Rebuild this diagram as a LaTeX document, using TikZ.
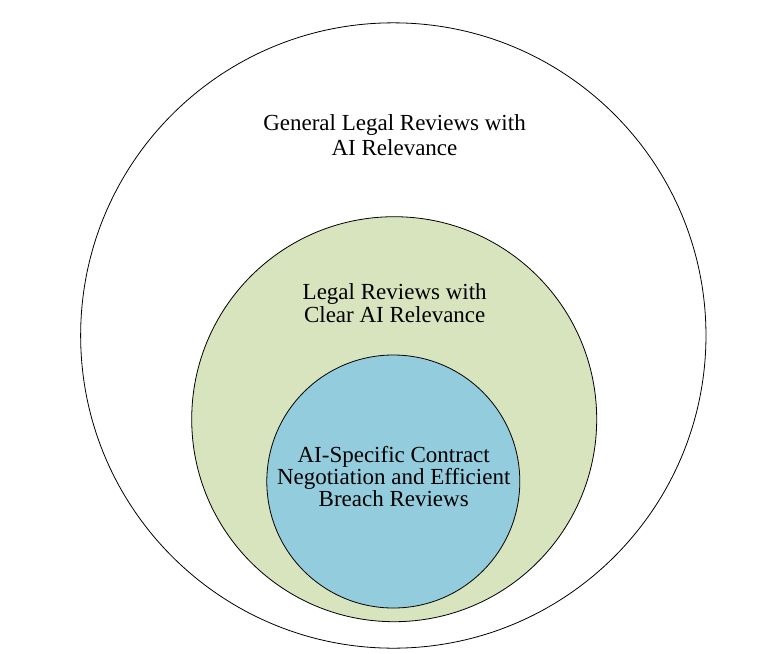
\documentclass[tikz,border=0pt]{standalone}
\usepackage{fontspec}
\setmainfont{Liberation Serif}
\definecolor{ringgreen}{HTML}{D7E4BD}
\definecolor{coreblue}{HTML}{93CDDD}
\begin{document}
\begin{tikzpicture}[x=0.75pt,y=-0.75pt,
  ring/.style={circle, draw=black, line width=0.6pt, inner sep=0pt, outer sep=0pt},
  lbl/.style={align=center, anchor=base, inner sep=0pt, text=black}]
\useasboundingbox (0,0) rectangle (770,653);
\node[ring, fill=white, minimum size=469pt] (outer) at (393.3,335.5) {};
\node[ring, fill=ringgreen, minimum size=303.75pt] (middle) at (394.2,419.2) {};
\node[ring, fill=coreblue, minimum size=189.75pt] (inner) at (393.3,481.5) {};
\node[lbl, font=\fontsize{17.25}{18.75}\selectfont] (outerlbl) at (394.5,155) {General Legal Reviews with\\AI Relevance};
\node[lbl, font=\fontsize{17.25}{17.6}\selectfont] (middlelbl) at (394.7,322.5) {Legal Reviews with\\Clear AI Relevance};
\node[lbl, font=\fontsize{17.25}{16.5}\selectfont] (innerlbl) at (393.7,506) {AI-Specific Contract\\Negotiation and Efficient\\Breach Reviews};
\end{tikzpicture}
\end{document}
